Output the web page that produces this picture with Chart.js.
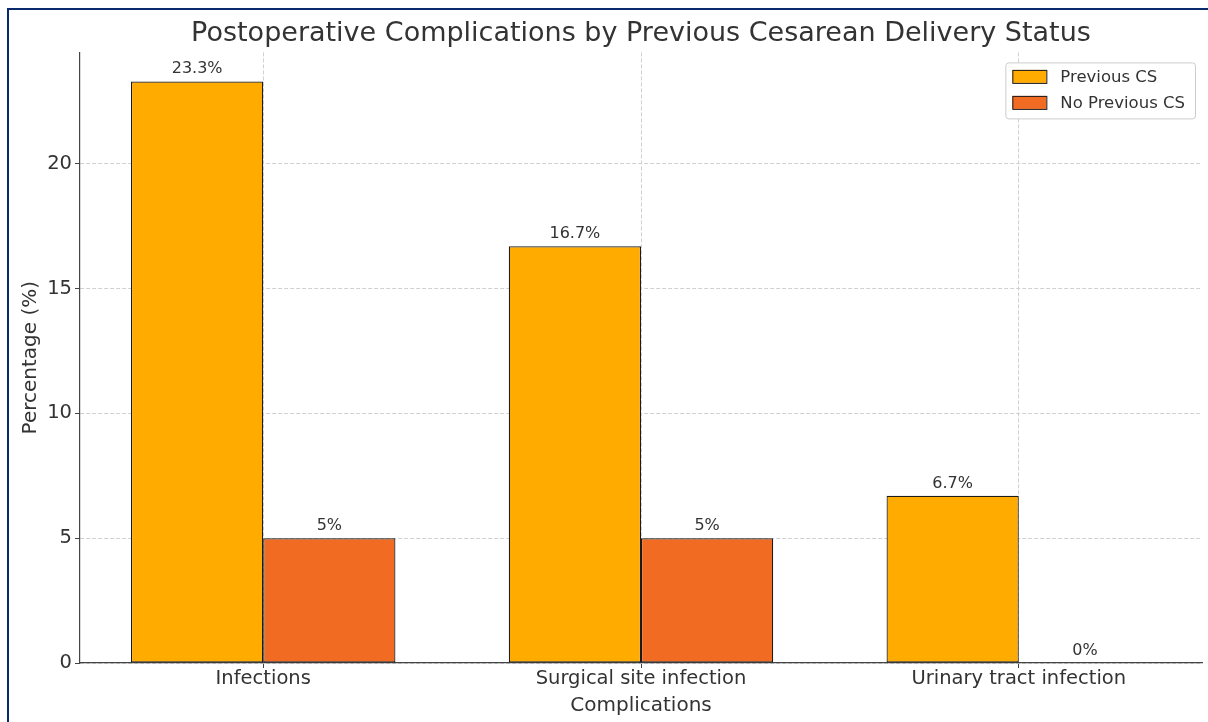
<!DOCTYPE html>
<html><head><meta charset="utf-8">
<script src="https://cdn.jsdelivr.net/npm/chart.js@4.4.1/dist/chart.umd.min.js"></script>
<style>
html,body{margin:0;padding:0;background:#fff;}
#wrap{position:relative;width:1208px;height:722px;overflow:hidden;background:#fff;}
#frame{position:absolute;left:7px;top:8px;width:1300px;height:800px;border-top:2px solid #0a2a6e;border-left:2px solid #0a2a6e;}
canvas{position:absolute;left:0;top:0;}
</style></head><body>
<div id="wrap"><div id="frame"></div><canvas id="c" width="1208" height="722"></canvas></div>
<script>
const categories = ['Infections', 'Surgical site infection', 'Urinary tract infection'];
const seriesNames = ['Previous CS', 'No Previous CS'];
const previousCS = [23.3, 16.7, 6.7];
const noPreviousCS = [5, 5, 0];
const yTicks = [0, 5, 10, 15, 20];
const yMax = 24.465;
const xMin = -0.485;
const xMax = 2.485;

const FONT = '"DejaVu Sans", "Liberation Sans", sans-serif';
const TXT = '#333333';
const GRID = '#d0d0d0';
const AXIS = '#444444';

const valueLabels = {
  id: 'valueLabels',
  afterDatasetsDraw(chart) {
    const ctx = chart.ctx;
    ctx.save();
    ctx.font = '16px ' + FONT;
    ctx.fillStyle = TXT;
    ctx.textAlign = 'center';
    ctx.textBaseline = 'alphabetic';
    chart.data.datasets.forEach((ds, i) => {
      chart.getDatasetMeta(i).data.forEach((bar, j) => {
        ctx.fillText(ds.data[j].y + '%', bar.x, bar.y - 8);
      });
    });
    ctx.restore();
  }
};

const boxLegend = {
  id: 'boxLegend',
  afterDraw(chart) {
    const ctx = chart.ctx;
    const area = chart.chartArea;
    ctx.save();
    ctx.font = '16.5px ' + FONT;
    const items = chart.data.datasets;
    let maxW = 0;
    items.forEach(ds => { maxW = Math.max(maxW, ctx.measureText(ds.label).width); });
    const padL = 7, boxW = 34, boxH = 13, gap = 14, padR = 10, rowH = 26, padT = 14;
    const w = padL + boxW + gap + maxW + padR;
    const h = 56;
    const x0 = area.right - 7 - w;
    const y0 = area.top + 10;
    ctx.beginPath();
    if (ctx.roundRect) ctx.roundRect(x0 + 0.5, y0 + 0.5, w, h, 3); else ctx.rect(x0 + 0.5, y0 + 0.5, w, h);
    ctx.fillStyle = 'rgba(255,255,255,0.9)';
    ctx.fill();
    ctx.strokeStyle = '#cccccc';
    ctx.lineWidth = 1;
    ctx.stroke();
    items.forEach((ds, i) => {
      const cy = y0 + padT + i * rowH;
      ctx.fillStyle = ds.backgroundColor;
      ctx.fillRect(x0 + padL, cy - boxH / 2, boxW, boxH);
      ctx.strokeStyle = ds.borderColor;
      ctx.lineWidth = 1;
      ctx.strokeRect(x0 + padL + 0.5, cy - boxH / 2 + 0.5, boxW, boxH);
      ctx.fillStyle = TXT;
      ctx.textAlign = 'left';
      ctx.textBaseline = 'middle';
      ctx.fillText(ds.label, x0 + padL + boxW + gap, cy + 1);
    });
    ctx.restore();
  }
};

const toPoints = arr => arr.map((v, i) => ({ x: i, y: v }));

new Chart(document.getElementById('c'), {
  type: 'bar',
  data: {
    datasets: [
      { label: seriesNames[0], data: toPoints(previousCS), backgroundColor: '#FFAB00', borderColor: '#1a1a1a', borderWidth: 1.2, borderSkipped: false },
      { label: seriesNames[1], data: toPoints(noPreviousCS), backgroundColor: '#F26B22', borderColor: '#1a1a1a', borderWidth: 1.2, borderSkipped: false }
    ]
  },
  options: {
    responsive: false,
    animation: false,
    devicePixelRatio: 1,
    layout: { padding: { left: 8, right: 6, top: 0, bottom: 0 } },
    datasets: { bar: { categoryPercentage: 0.7, barPercentage: 1.0 } },
    plugins: {
      legend: { display: false },
      tooltip: { enabled: false },
      title: {
        display: true,
        fullSize: false,
        text: 'Postoperative Complications by Previous Cesarean Delivery Status',
        color: TXT,
        font: { family: FONT, size: 27, weight: 'normal' },
        padding: { top: 18, bottom: 2 }
      }
    },
    scales: {
      x: {
        type: 'linear',
        min: xMin,
        max: xMax,
        offset: false,
        afterFit: s => { s.height = 59; },
        afterBuildTicks: s => { s.ticks = categories.map((c, i) => ({ value: i })); },
        grid: { offset: false, color: GRID, lineWidth: 1, drawTicks: true, tickLength: 5, tickColor: AXIS, tickBorderDash: [] },
        border: { display: true, color: AXIS, width: 1.2, dash: [4, 2] },
        ticks: { color: TXT, font: { family: FONT, size: 19.5 }, padding: -1, maxRotation: 0, autoSkip: false, callback: v => categories[v] },
        title: { display: true, text: 'Complications', color: TXT, font: { family: FONT, size: 20 }, padding: { top: 0, bottom: 4 } }
      },
      y: {
        min: 0,
        max: yMax,
        afterFit: s => { s.width = 72; },
        afterBuildTicks: s => { s.ticks = yTicks.map(v => ({ value: v })); },
        grid: { color: GRID, lineWidth: 1, drawTicks: true, tickLength: 5, tickColor: AXIS, tickBorderDash: [] },
        border: { display: true, color: AXIS, width: 1.2, dash: [4, 2] },
        ticks: { color: TXT, font: { family: FONT, size: 19.5 }, padding: 3, includeBounds: false },
        title: { display: true, text: 'Percentage (%)', color: TXT, font: { family: FONT, size: 20 }, padding: { top: 11, bottom: 0 } }
      }
    }
  },
  plugins: [valueLabels, boxLegend]
});
</script>
</body></html>
